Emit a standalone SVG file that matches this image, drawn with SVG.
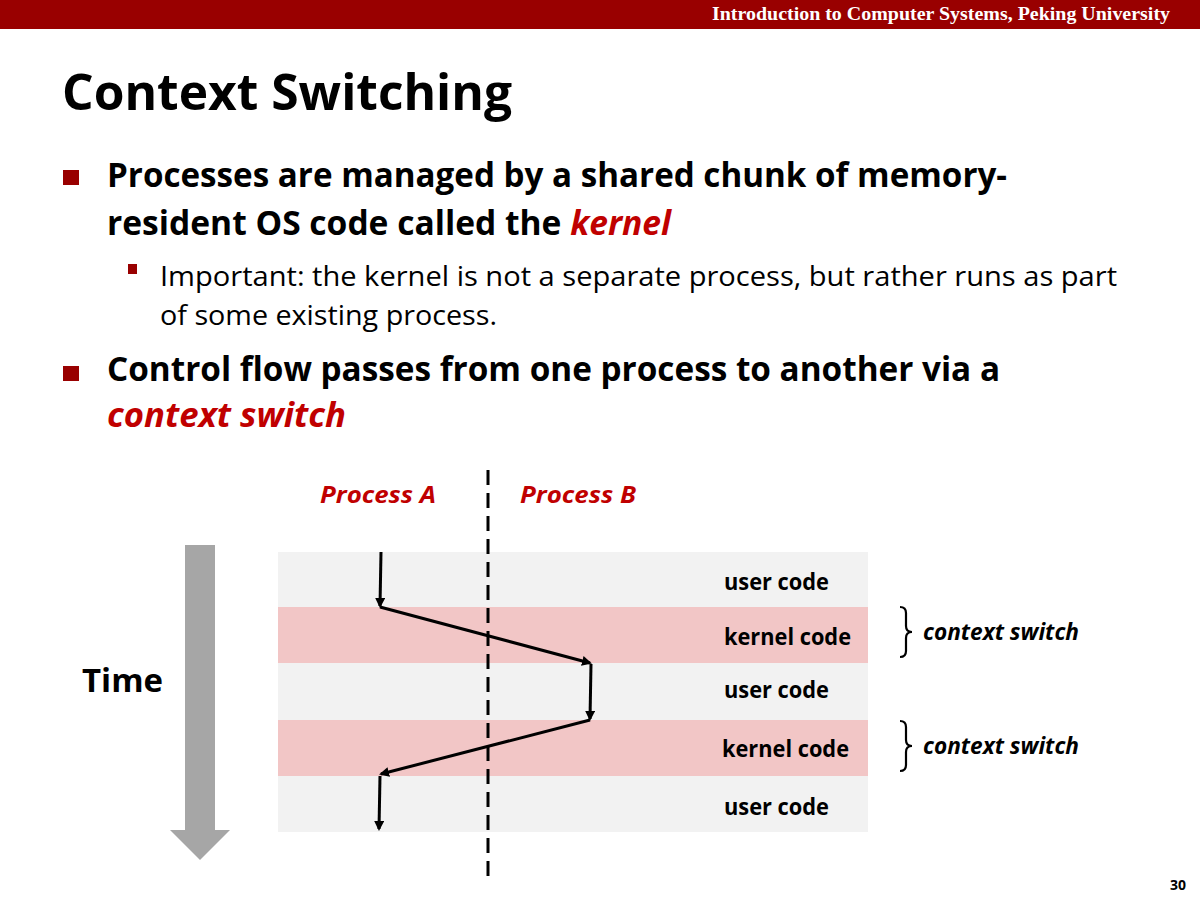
<svg xmlns="http://www.w3.org/2000/svg" width="1200" height="900" viewBox="0 0 1200 900">
<style>
.sans{font-family:"Open Sans","Liberation Sans",sans-serif}
.b{font-weight:bold}
.red{fill:#c00000}
.it{font-style:italic}
.band-u{fill:#f2f2f2}
.band-k{fill:#f2c6c6}
.lbl{font-family:"Open Sans","Liberation Sans",sans-serif;font-weight:bold;font-size:23px;fill:#000}
.cs{font-family:"Open Sans","Liberation Sans",sans-serif;font-weight:bold;font-style:italic;font-size:23px;fill:#000}
.flow{stroke:#000;stroke-width:3;fill:none;marker-end:url(#ah)}
.brace{stroke:#000;stroke-width:2.2;fill:none}
</style>
<defs>
<marker id="ah" markerWidth="10" markerHeight="10" refX="8" refY="5" orient="auto" markerUnits="userSpaceOnUse" viewBox="0 0 10 10">
<path d="M0,0 L10,5 L0,10 z" fill="#000"/>
</marker>
</defs>
<rect x="0" y="0" width="1200" height="29" fill="#990000"/>
<text x="712" y="20" font-family="Liberation Serif,serif" font-weight="bold" font-size="19" fill="#fff" textLength="458" lengthAdjust="spacingAndGlyphs">Introduction to Computer Systems, Peking University</text>
<text x="62" y="110" class="sans b" font-size="51" textLength="450" lengthAdjust="spacingAndGlyphs">Context Switching</text>

<rect x="63" y="170" width="16" height="15" fill="#990000"/>
<text x="107" y="187" class="sans b" font-size="34" textLength="900" lengthAdjust="spacingAndGlyphs">Processes are managed by a shared chunk of memory-</text>
<text x="107" y="235" class="sans b" font-size="34" textLength="564" lengthAdjust="spacingAndGlyphs">resident OS code called the <tspan class="red it">kernel</tspan></text>
<rect x="128" y="264" width="9" height="10" fill="#990000"/>
<text x="160" y="286" class="sans" font-size="28" textLength="957" lengthAdjust="spacingAndGlyphs">Important: the kernel is not a separate process, but rather runs as part</text>
<text x="160" y="325" class="sans" font-size="28" textLength="337" lengthAdjust="spacingAndGlyphs">of some existing process.</text>
<rect x="63" y="366" width="16" height="15" fill="#990000"/>
<text x="107" y="381" class="sans b" font-size="34" textLength="893" lengthAdjust="spacingAndGlyphs">Control flow passes from one process to another via a</text>
<text x="107" y="427" class="sans b it red" font-size="34" textLength="239" lengthAdjust="spacingAndGlyphs">context switch</text>

<g id="time">
<rect x="185" y="545" width="30" height="286" fill="#a6a6a6"/>
<path d="M170,830 L230,830 L200,860 z" fill="#a6a6a6"/>
<text x="82" y="692" class="sans b" font-size="33" textLength="81" lengthAdjust="spacingAndGlyphs">Time</text>
</g>

<g id="bands">
<rect id="u1" x="278" y="552" width="590" height="55" class="band-u"/>
<rect id="k1" x="278" y="607" width="590" height="56" class="band-k"/>
<rect id="u2" x="278" y="663" width="590" height="57" class="band-u"/>
<rect id="k2" x="278" y="720" width="590" height="56" class="band-k"/>
<rect id="u3" x="278" y="776" width="590" height="56" class="band-u"/>
<text x="724" y="590" class="lbl" textLength="105" lengthAdjust="spacingAndGlyphs">user code</text>
<text x="724" y="645" class="lbl" textLength="127" lengthAdjust="spacingAndGlyphs">kernel code</text>
<text x="724" y="698" class="lbl" textLength="105" lengthAdjust="spacingAndGlyphs">user code</text>
<text x="722" y="757" class="lbl" textLength="127" lengthAdjust="spacingAndGlyphs">kernel code</text>
<text x="724" y="815" class="lbl" textLength="105" lengthAdjust="spacingAndGlyphs">user code</text>
</g>

<g id="labels">
<text x="320" y="503" class="sans b it red" font-size="23" textLength="116" lengthAdjust="spacingAndGlyphs">Process A</text>
<text x="520" y="503" class="sans b it red" font-size="23" textLength="116" lengthAdjust="spacingAndGlyphs">Process B</text>
</g>

<g id="switch1">
<path class="brace" d="M900,607 Q906,607 906,613 L906,626 Q906,632 912,632 Q906,632 906,638 L906,651 Q906,657 900,657"/>
<text x="923" y="640" class="cs" textLength="156" lengthAdjust="spacingAndGlyphs">context switch</text>
</g>
<g id="switch2">
<path class="brace" d="M900,721 Q906,721 906,727 L906,740 Q906,746 912,746 Q906,746 906,752 L906,765 Q906,771 900,771"/>
<text x="923" y="754" class="cs" textLength="156" lengthAdjust="spacingAndGlyphs">context switch</text>
</g>

<line x1="488" y1="470" x2="488" y2="882" stroke="#000" stroke-width="3" stroke-dasharray="15,8"/>

<g id="connectors">
<path class="flow" d="M381,552 L380,606"/>
<path class="flow" d="M380,607 L590,663"/>
<path class="flow" d="M591,664 L590,719"/>
<path class="flow" d="M590,720 L381,774"/>
<path class="flow" d="M380,776 L379,829"/>
</g>

<text x="1186" y="890" text-anchor="end" class="sans b" font-size="14">30</text>
</svg>
